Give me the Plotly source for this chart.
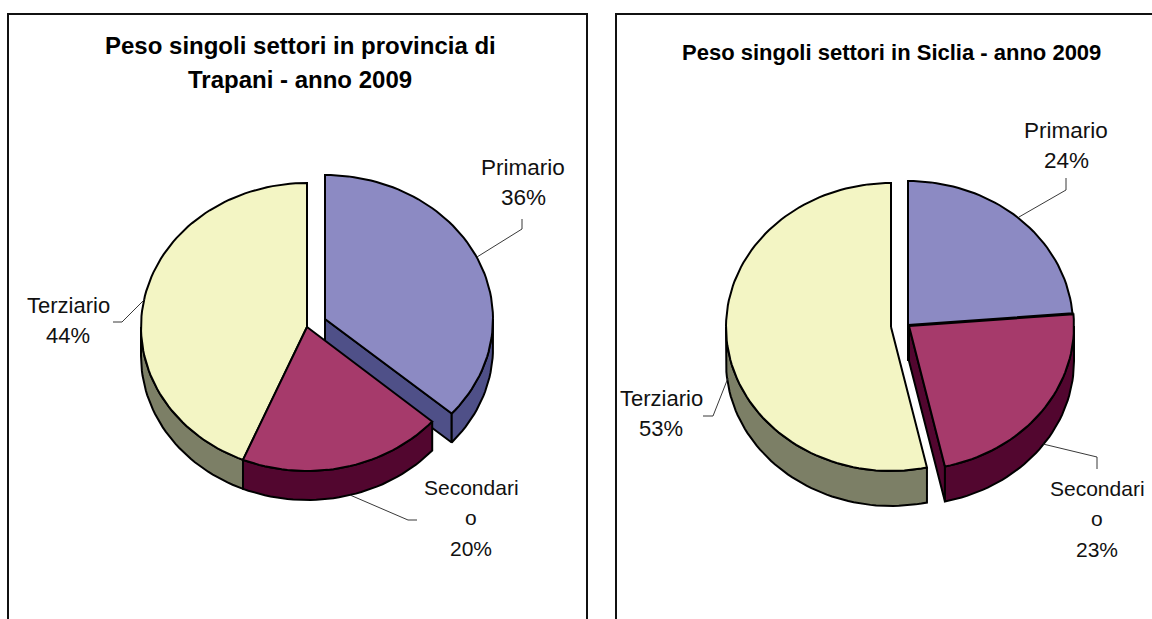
import math
import plotly.graph_objects as go

CATEGORIES = ["Primario", "Secondario", "Terziario"]
LABEL_LINES = [["Primario"], ["Secondari", "o"], ["Terziario"]]
VALUES_TRAPANI = [36.4, 19.9, 43.7]
VALUES_SICILIA = [23.7, 22.8, 53.49]
TITLE_TRAPANI = ["Peso singoli settori in provincia di", "Trapani - anno 2009"]
TITLE_SICILIA = ["Peso singoli settori in Siclia - anno 2009"]

TOP_COLORS = ["#8C8AC3", "#A63A6B", "#F3F5C4"]
WALL_COLORS = ["#4F5088", "#52062F", "#7C7F66"]
DRAW_ORDER = [2, 0, 1]
FONT = "Liberation Sans"
LABEL_SIZES = [22.5, 21, 22]

PANELS = [
    dict(values=VALUES_TRAPANI, title=TITLE_TRAPANI, title_xy=(300, 45), title_size=24, box=(8, 587),
         centers=[(325, 319), (307, 327), (307, 327)], rx=[168, 166, 166], ry=144, depth=29,
         label_xy=[(523, 167), (471, 487), (68, 305)],
         leaders=[[(477, 257), (522, 229), (522, 219)],
                  [(350, 495), (408, 520), (417, 520)],
                  [(145, 299), (122, 322), (113, 322)]]),
    dict(values=VALUES_SICILIA, title=TITLE_SICILIA, title_xy=(891, 52), title_size=22, box=(616, 1180),
         centers=[(908, 325), (909, 326), (891, 327)], rx=[165, 165, 165], ry=144, depth=35,
         label_xy=[(1066, 130), (1097, 488), (661, 398)],
         leaders=[[(1019, 217), (1066, 190), (1066, 178)],
                  [(1043, 444), (1097, 457), (1097, 469)],
                  [(728, 378), (713, 416), (703, 416)]]),
]
TITLE_LINE_STEP = 34
LABEL_LINE_STEP = 30.5


def arc(center, rx, ry, t0, t1, dy=0.0):
    n = max(2, int(abs(t1 - t0) / 2) + 2)
    pts = []
    for i in range(n):
        t = math.radians(t0 + (t1 - t0) * i / (n - 1))
        pts.append((center[0] + rx * math.sin(t), center[1] - ry * math.cos(t) + dy))
    return pts


def polygon(fig, pts, color):
    pts = list(pts) + [pts[0]]
    fig.add_trace(go.Scatter(
        x=[p[0] for p in pts], y=[p[1] for p in pts], mode="lines", fill="toself",
        fillcolor=color, line=dict(color="black", width=2), hoverinfo="skip", showlegend=False))


def polyline(fig, pts, width, color="black"):
    fig.add_trace(go.Scatter(
        x=[p[0] for p in pts], y=[p[1] for p in pts], mode="lines",
        line=dict(color=color, width=width), hoverinfo="skip", showlegend=False))


def text(x, y, s, size, color="#111111"):
    return dict(x=x, y=y, text=s, showarrow=False, align="center", xref="x", yref="y",
                font=dict(family=FONT, size=size, color=color))


fig = go.Figure()
annotations = []

for panel in PANELS:
    x0, x1 = panel["box"]
    polyline(fig, [(x0, 700), (x0, 14), (x1, 14), (x1, 700)], 2, "#111111")

    values = panel["values"]
    total = sum(values)
    bounds = [0.0]
    for v in values:
        bounds.append(bounds[-1] + 360.0 * v / total)

    ry, depth = panel["ry"], panel["depth"]
    for k in DRAW_ORDER:
        c = panel["centers"][k]
        rx = panel["rx"][k]
        t0, t1 = bounds[k], bounds[k + 1]
        if t1 < 180 or 180 < t0 < 360:
            edge = t1 if t1 < 180 else t0
            e = arc(c, rx, ry, edge, edge)[0]
            polygon(fig, [c, e, (e[0], e[1] + depth), (c[0], c[1] + depth)], WALL_COLORS[k])
        a0, a1 = max(t0, 90.0), min(t1, 270.0)
        if a1 > a0:
            polygon(fig, arc(c, rx, ry, a0, a1) + arc(c, rx, ry, a1, a0, depth), WALL_COLORS[k])
        polygon(fig, [c] + arc(c, rx, ry, t0, t1), TOP_COLORS[k])

    for line in panel["leaders"]:
        polyline(fig, line, 0.9, "#222222")

    for k, cat in enumerate(CATEGORIES):
        pct = round(100 * values[k] / total)
        lines = LABEL_LINES[k] + [f"{pct}%"]
        lx, ly = panel["label_xy"][k]
        for i, s in enumerate(lines):
            annotations.append(text(lx, ly + i * LABEL_LINE_STEP, s, LABEL_SIZES[k]))

    tx, ty = panel["title_xy"]
    for i, s in enumerate(panel["title"]):
        annotations.append(text(tx, ty + i * TITLE_LINE_STEP, f"<b>{s}</b>", panel["title_size"], "black"))

fig.update_layout(
    width=1152, height=619, autosize=False,
    margin=dict(l=0, r=0, t=0, b=0),
    paper_bgcolor="white", plot_bgcolor="white",
    showlegend=False, annotations=annotations,
    xaxis=dict(range=[0, 1152], visible=False, fixedrange=True),
    yaxis=dict(range=[619, 0], visible=False, fixedrange=True),
)
fig.write_html(
    "out.html",
    config={"displayModeBar": False},
    post_script="document.documentElement.style.overflow='hidden';document.body.style.margin='0';document.body.style.overflow='hidden';",
)
